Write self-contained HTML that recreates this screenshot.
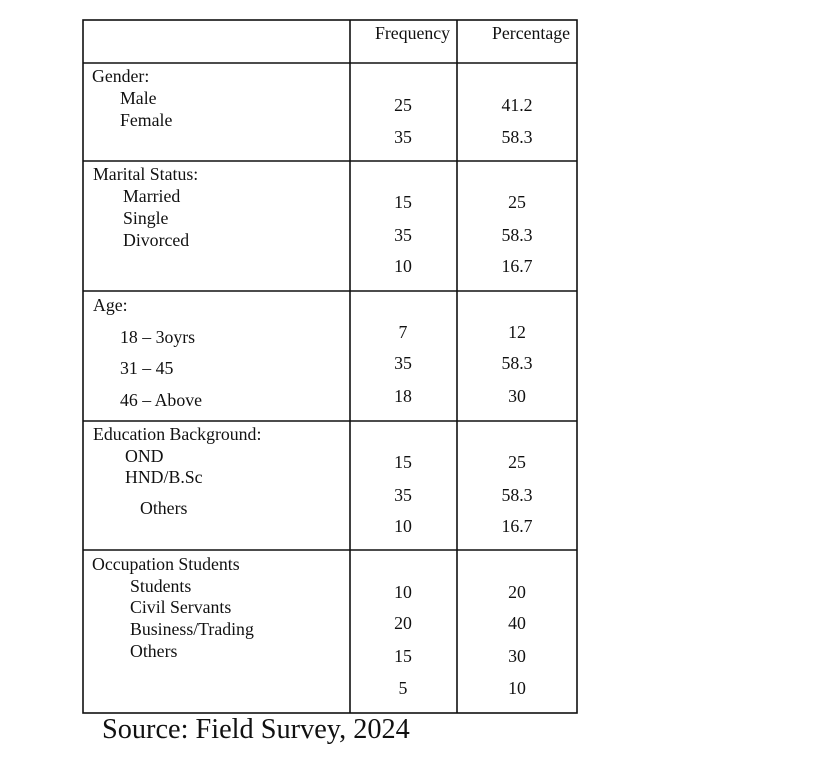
<!DOCTYPE html>
<html><head><meta charset="utf-8"><style>
body{margin:0;background:#fff;width:828px;height:771px;position:relative;overflow:hidden;font-family:"Liberation Serif",serif;color:#111}
.t{position:absolute;font-size:17.8px;line-height:20px;white-space:nowrap}
.c{text-align:center;width:100px}
</style></head><body>
<svg width="828" height="771" style="position:absolute;left:0;top:0">
<g stroke="#111" stroke-width="1.6" fill="none">
<rect x="83" y="20" width="494" height="693"/>
<line x1="350" y1="20" x2="350" y2="713"/>
<line x1="457" y1="20" x2="457" y2="713"/>
<line x1="83" y1="63" x2="577" y2="63"/>
<line x1="83" y1="161" x2="577" y2="161"/>
<line x1="83" y1="291" x2="577" y2="291"/>
<line x1="83" y1="421" x2="577" y2="421"/>
<line x1="83" y1="550" x2="577" y2="550"/>
</g></svg>
<div class="t" style="left:375px;top:23px">Frequency</div>
<div class="t" style="left:492px;top:23px">Percentage</div>

<div class="t" style="left:92px;top:66px">Gender:</div>
<div class="t" style="left:120px;top:88px">Male</div>
<div class="t" style="left:120px;top:110px">Female</div>
<div class="t c" style="left:353px;top:95px">25</div>
<div class="t c" style="left:467px;top:95px">41.2</div>
<div class="t c" style="left:353px;top:127px">35</div>
<div class="t c" style="left:467px;top:127px">58.3</div>

<div class="t" style="left:93px;top:164px">Marital Status:</div>
<div class="t" style="left:123px;top:186px">Married</div>
<div class="t" style="left:123px;top:208px">Single</div>
<div class="t" style="left:123px;top:230px">Divorced</div>
<div class="t c" style="left:353px;top:192px">15</div>
<div class="t c" style="left:467px;top:192px">25</div>
<div class="t c" style="left:353px;top:225px">35</div>
<div class="t c" style="left:467px;top:225px">58.3</div>
<div class="t c" style="left:353px;top:256px">10</div>
<div class="t c" style="left:467px;top:256px">16.7</div>

<div class="t" style="left:93px;top:295px">Age:</div>
<div class="t" style="left:120px;top:327px">18 – 3oyrs</div>
<div class="t" style="left:120px;top:358px">31 – 45</div>
<div class="t" style="left:120px;top:390px">46 – Above</div>
<div class="t c" style="left:353px;top:322px">7</div>
<div class="t c" style="left:467px;top:322px">12</div>
<div class="t c" style="left:353px;top:353px">35</div>
<div class="t c" style="left:467px;top:353px">58.3</div>
<div class="t c" style="left:353px;top:386px">18</div>
<div class="t c" style="left:467px;top:386px">30</div>

<div class="t" style="left:93px;top:424px">Education Background:</div>
<div class="t" style="left:125px;top:446px">OND</div>
<div class="t" style="left:125px;top:467px">HND/B.Sc</div>
<div class="t" style="left:140px;top:498px">Others</div>
<div class="t c" style="left:353px;top:452px">15</div>
<div class="t c" style="left:467px;top:452px">25</div>
<div class="t c" style="left:353px;top:485px">35</div>
<div class="t c" style="left:467px;top:485px">58.3</div>
<div class="t c" style="left:353px;top:516px">10</div>
<div class="t c" style="left:467px;top:516px">16.7</div>

<div class="t" style="left:92px;top:554px">Occupation Students</div>
<div class="t" style="left:130px;top:576px">Students</div>
<div class="t" style="left:130px;top:597px">Civil Servants</div>
<div class="t" style="left:130px;top:619px">Business/Trading</div>
<div class="t" style="left:130px;top:641px">Others</div>
<div class="t c" style="left:353px;top:582px">10</div>
<div class="t c" style="left:467px;top:582px">20</div>
<div class="t c" style="left:353px;top:613px">20</div>
<div class="t c" style="left:467px;top:613px">40</div>
<div class="t c" style="left:353px;top:646px">15</div>
<div class="t c" style="left:467px;top:646px">30</div>
<div class="t c" style="left:353px;top:678px">5</div>
<div class="t c" style="left:467px;top:678px">10</div>

<div class="t" style="left:102px;top:714px;font-size:28.3px;line-height:32px">Source: Field Survey, 2024</div>
</body></html>
